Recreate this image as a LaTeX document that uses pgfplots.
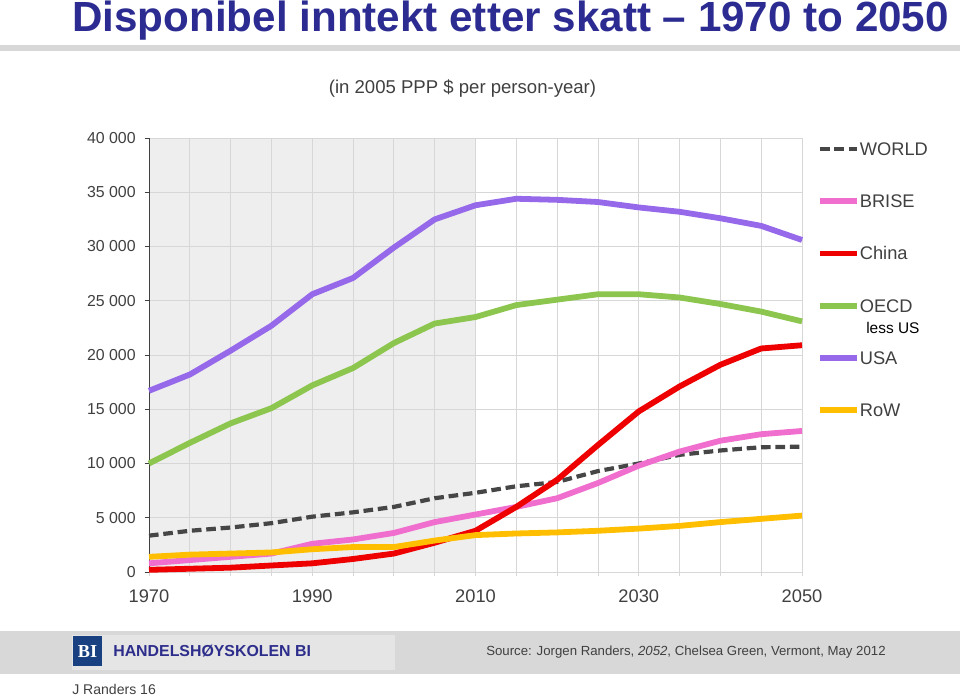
\documentclass[border=0pt]{standalone}
\usepackage{pgfplots}
\usepackage{pgfplotstable}
\pgfplotsset{compat=1.18}
\usepackage{fontspec}
\setmainfont{Liberation Sans}
\newfontfamily\logofont{Liberation Serif}

\definecolor{usa}{RGB}{150,105,235}
\definecolor{oecd}{RGB}{140,198,78}
\definecolor{china}{RGB}{238,0,0}
\definecolor{brise}{RGB}{240,110,205}
\definecolor{world}{RGB}{70,70,70}
\definecolor{rowc}{RGB}{255,190,0}
\definecolor{shade}{RGB}{238,238,238}
\definecolor{gridc}{RGB}{215,215,215}
\definecolor{textgray}{RGB}{64,64,64}
\definecolor{titleblue}{RGB}{43,43,145}
\definecolor{rulegray}{RGB}{215,215,215}
\definecolor{footgray}{RGB}{216,216,216}
\definecolor{boxgray}{RGB}{229,229,229}
\definecolor{biblue}{RGB}{25,65,130}
\definecolor{bitext}{RGB}{45,45,140}

\pgfplotstableread{
year world brise china oecd usa rowv
1970 3350 800 200 10000 16700 1400
1975 3800 1100 300 11900 18200 1600
1980 4100 1400 400 13700 20400 1700
1985 4500 1700 600 15100 22700 1800
1990 5100 2600 800 17200 25600 2100
1995 5500 3000 1200 18800 27100 2300
2000 6000 3600 1700 21100 29900 2300
2005 6800 4600 2700 22900 32500 2900
2010 7300 5300 3800 23500 33800 3400
2015 7900 6000 6000 24600 34400 3550
2020 8300 6800 8500 25100 34300 3650
2025 9300 8200 11700 25600 34100 3800
2030 10000 9800 14800 25600 33600 4000
2035 10800 11100 17100 25300 33200 4250
2040 11200 12100 19100 24700 32600 4600
2045 11500 12700 20600 24000 31900 4900
2050 11550 13000 20900 23100 30600 5200
}\income

\begin{document}
\begin{tikzpicture}
\begin{axis}[
  set layers,
  scale only axis, width=163.25mm, height=108.5mm,
  xmin=1970, xmax=2050, ymin=0, ymax=40000,
  clip=false,
  axis x line*=bottom, axis y line*=left,
  axis line style={-},
  x axis line style={draw=gridc, line width=0.6pt},
  y axis line style={draw=textgray, line width=0.7pt},
  xtick={1970,1990,2010,2030,2050},
  minor xtick={1975,1980,1985,1995,2000,2005,2015,2020,2025,2035,2040,2045},
  ytick={0,5000,...,40000},
  grid=both,
  major grid style={draw=gridc, line width=0.6pt},
  minor grid style={draw=gridc, line width=0.6pt},
  tick align=outside,
  major tick length=1.1mm, minor tick length=1.1mm,
  x tick style={draw=gridc, line width=0.6pt},
  y tick style={draw=textgray, line width=0.7pt},
  /pgf/number format/assume math mode=true,
  scaled y ticks=false,
  yticklabel style={font=\fontsize{11.3}{12}\selectfont, text=textgray, xshift=-1mm, /pgf/number format/1000 sep={\ }},
  xticklabel style={font=\fontsize{13}{13}\selectfont, text=textgray, yshift=-2mm, /pgf/number format/1000 sep={}},
  every axis plot/.append style={line join=round},
  legend style={at={(1.0230,0.9896)}, anchor=north west, draw=none, fill=none,
    inner sep=0pt, outer sep=0pt, row sep=9.78mm, column sep=0mm,
    font=\fontsize{13}{13}\selectfont, text=textgray,
    nodes={inner sep=0pt, text height=9.3pt, text depth=0pt}},
  legend cell align=left,
  legend image code/.code={\draw[#1] (0mm,0mm) -- (9.25mm,0mm);},
]
\addplot[forget plot, on layer=axis background, draw=none, fill=shade] coordinates {(1970,40000) (2010,40000)} \closedcycle;

\addplot[world, line width=1.05mm, dash pattern=on 2.4mm off 1.2mm] table[x=year,y=world]{\income};
\addlegendentry{WORLD}
\addplot[brise, line width=1.45mm] table[x=year,y=brise]{\income};
\addlegendentry{BRISE}
\addplot[china, line width=1.45mm] table[x=year,y=china]{\income};
\addlegendentry{China}
\addplot[oecd, line width=1.45mm] table[x=year,y=oecd]{\income};
\addlegendentry{OECD}
\addplot[usa, line width=1.45mm] table[x=year,y=usa]{\income};
\addlegendentry{USA}
\addplot[rowc, line width=1.45mm] table[x=year,y=rowv]{\income};
\addlegendentry{RoW}
\end{axis}

\begin{scope}[xshift=-37.25mm, yshift=143mm, x=0.25mm, y=-0.25mm]
\useasboundingbox (0,0) rectangle (960,699);
% title
\node[anchor=base west, inner sep=0pt, text=titleblue, font=\fontsize{30}{30}\selectfont\bfseries] at (72,31.5) {Disponibel inntekt etter skatt – 1970 to 2050};
\fill[rulegray] (0,45) rectangle (960,51);
\node[inner sep=0pt, text=textgray, font=\fontsize{13.2}{14}\selectfont] at (462.5,89) {(in 2005 PPP \$ per person-year)};
% legend note
\node[anchor=base west, inner sep=0pt, font=\fontsize{11}{11}\selectfont] at (866,333.5) {less US};
% footer
\fill[footgray] (0,631) rectangle (960,674);
\fill[boxgray] (72,635) rectangle (395,670);
\fill[biblue] (73,636) rectangle (102,666);
\node[inner sep=0pt, text=white, font=\logofont\fontsize{13}{13}\selectfont\bfseries] at (87.5,651.5) {BI};
\node[anchor=base west, inner sep=0pt, text=bitext, font=\fontsize{11.3}{12}\selectfont\bfseries] at (113,657) {HANDELSHØYSKOLEN BI};
\node[anchor=base west, inner sep=0pt, text=textgray, font=\fontsize{9.4}{10}\selectfont] at (486,655.5) {Source: Jorgen Randers, \textit{2052}, Chelsea Green, Vermont, May 2012};
\node[anchor=base west, inner sep=0pt, text=textgray, font=\fontsize{10}{10}\selectfont] at (72,695) {J Randers 16};
\end{scope}
\end{tikzpicture}
\end{document}
